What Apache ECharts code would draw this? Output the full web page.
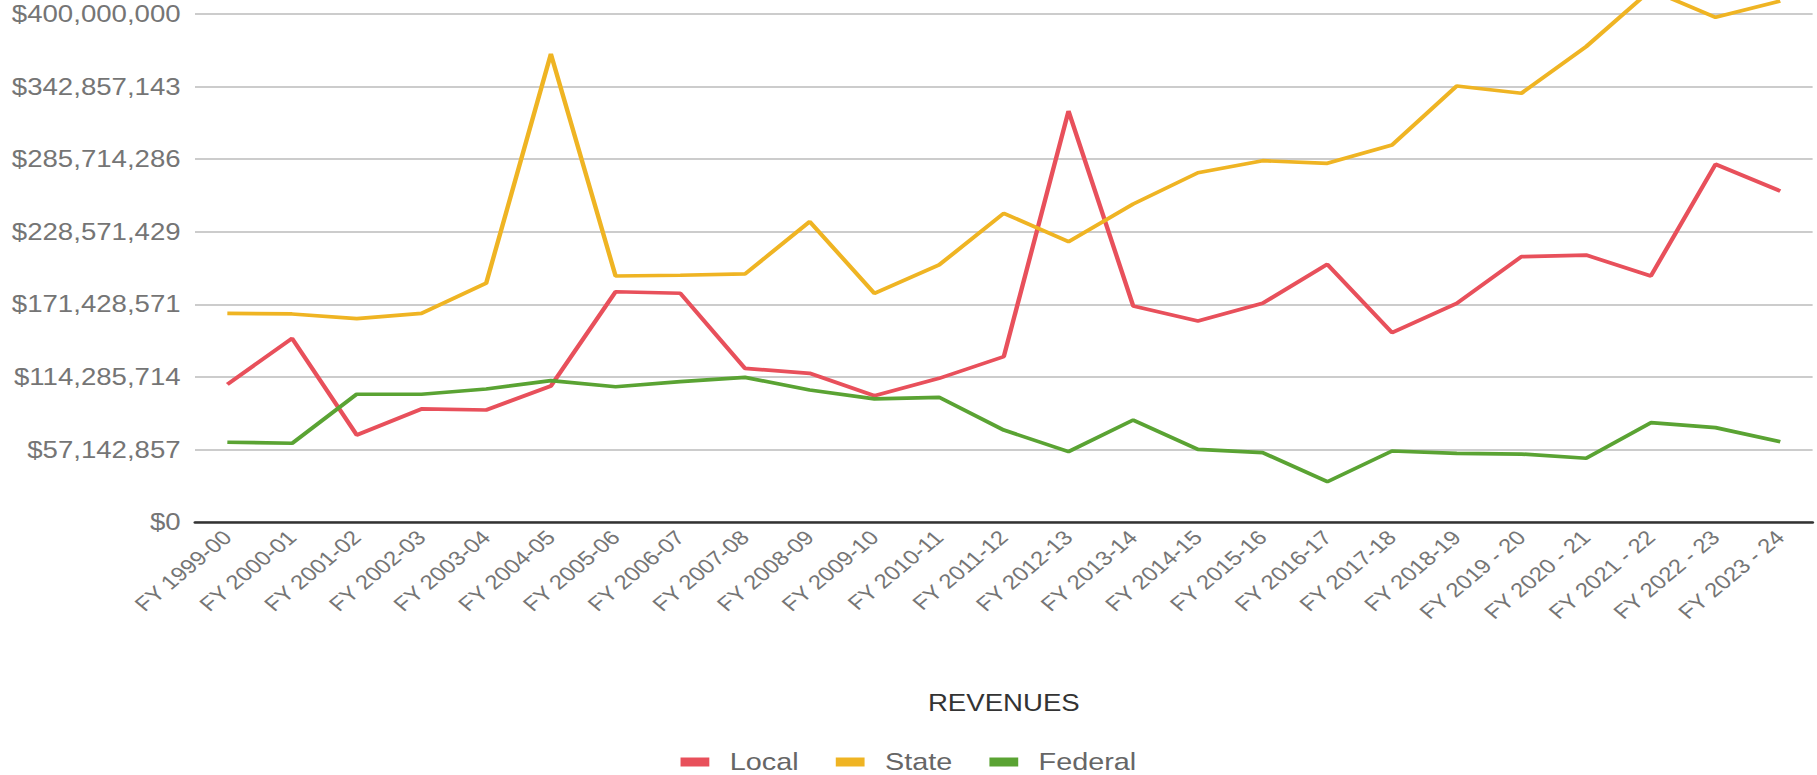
<!DOCTYPE html>
<html>
<head>
<meta charset="utf-8">
<title>Revenues</title>
<script src="https://cdn.jsdelivr.net/npm/echarts@6.0.0/dist/echarts.min.js"></script>
<style>
    html, body { margin: 0; padding: 0; background: #fff; overflow: hidden; }
    /* the source picture is a chart stretched sideways, so draw narrower and stretch it back */
    #main { width: 1514px; height: 775px; transform: scaleX(1.2); transform-origin: 0 0; }
</style>
</head>
<body>
<div id="main"></div>
<script>
var years = ["FY 1999-00", "FY 2000-01", "FY 2001-02", "FY 2002-03", "FY 2003-04", "FY 2004-05",
    "FY 2005-06", "FY 2006-07", "FY 2007-08", "FY 2008-09", "FY 2009-10", "FY 2010-11", "FY 2011-12",
    "FY 2012-13", "FY 2013-14", "FY 2014-15", "FY 2015-16", "FY 2016-17", "FY 2017-18", "FY 2018-19",
    "FY 2019 - 20", "FY 2020 - 21", "FY 2021 - 22", "FY 2022 - 23", "FY 2023 - 24"];

// values in dollars
var local = [108.4e6, 144.6e6, 68.5e6, 89.0e6, 88.2e6, 107.1e6, 181.3e6, 180.1e6, 121.0e6, 117.1e6,
    99.4e6, 113.1e6, 130.2e6, 323.6e6, 170.1e6, 158.3e6, 172.2e6, 202.9e6, 149.1e6, 172.2e6,
    208.9e6, 210.2e6, 193.7e6, 281.7e6, 260.6e6];
var state = [164.3e6, 163.8e6, 160.1e6, 164.3e6, 188.0e6, 368.5e6, 193.7e6, 194.3e6, 195.3e6, 236.5e6,
    180.1e6, 202.4e6, 243.1e6, 220.7e6, 250.4e6, 275.0e6, 284.5e6, 282.4e6, 296.9e6, 343.3e6,
    337.6e6, 374.3e6, 418.9e6, 397.4e6, 410.2e6];
var federal = [62.8e6, 62.0e6, 100.6e6, 100.6e6, 104.7e6, 111.3e6, 106.5e6, 110.5e6, 113.9e6, 103.9e6,
    96.9e6, 98.2e6, 72.4e6, 55.4e6, 80.3e6, 57.2e6, 54.6e6, 31.7e6, 55.9e6, 54.1e6,
    53.5e6, 50.2e6, 78.2e6, 74.3e6, 63.2e6];

var seriesNames = ["Local", "State", "Federal"];
var seriesColors = ["#e8505b", "#efb423", "#5aa333"];

var yMax = 400000000;
var yStep = yMax / 7;

var font = "'Liberation Sans', Arial, sans-serif";

function money(v) {
    return "$" + Math.round(v).toString().replace(/\B(?=(\d{3})+(?!\d))/g, ",");
}

function makeLine(name, data, color) {
    return {
        name: name,
        type: "line",
        data: data,
        color: color,
        symbol: "none",
        clip: false,
        lineStyle: { width: 3.7, color: color }
    };
}

var chart = echarts.init(document.getElementById("main"), null, { renderer: "svg" });
chart.setOption({
    animation: false,
    textStyle: { fontFamily: font },
    grid: { left: 162.5, right: 3.5, top: 14, bottom: 253 },
    legend: {
        data: seriesNames,
        top: 745,
        left: "center",
        icon: "rect",
        itemWidth: 24,
        itemHeight: 9,
        itemGap: 31,
        textStyle: { fontSize: 24, color: "#666", fontFamily: font, padding: [0, 0, 0, 12] }
    },
    xAxis: {
        type: "category",
        data: years,
        boundaryGap: true,
        name: "REVENUES",
        nameLocation: "middle",
        nameGap: 169,
        nameTextStyle: { fontSize: 23, color: "#333", fontFamily: font },
        axisLine: { lineStyle: { color: "#333", width: 2.5 } },
        axisTick: { show: false },
        axisLabel: {
            interval: 0,
            rotate: 45,
            margin: 12,
            fontSize: 20,
            color: "#757575",
            fontFamily: font
        }
    },
    yAxis: {
        type: "value",
        min: 0,
        max: yMax,
        interval: yStep,
        axisLine: { show: false },
        axisTick: { show: false },
        splitLine: { lineStyle: { color: "#cccccc", width: 2 } },
        axisLabel: {
            margin: 12,
            fontSize: 23,
            color: "#757575",
            fontFamily: font,
            formatter: function (v) { return money(v); }
        }
    },
    series: [
        makeLine(seriesNames[0], local, seriesColors[0]),
        makeLine(seriesNames[1], state, seriesColors[1]),
        makeLine(seriesNames[2], federal, seriesColors[2])
    ]
});
</script>
</body>
</html>
